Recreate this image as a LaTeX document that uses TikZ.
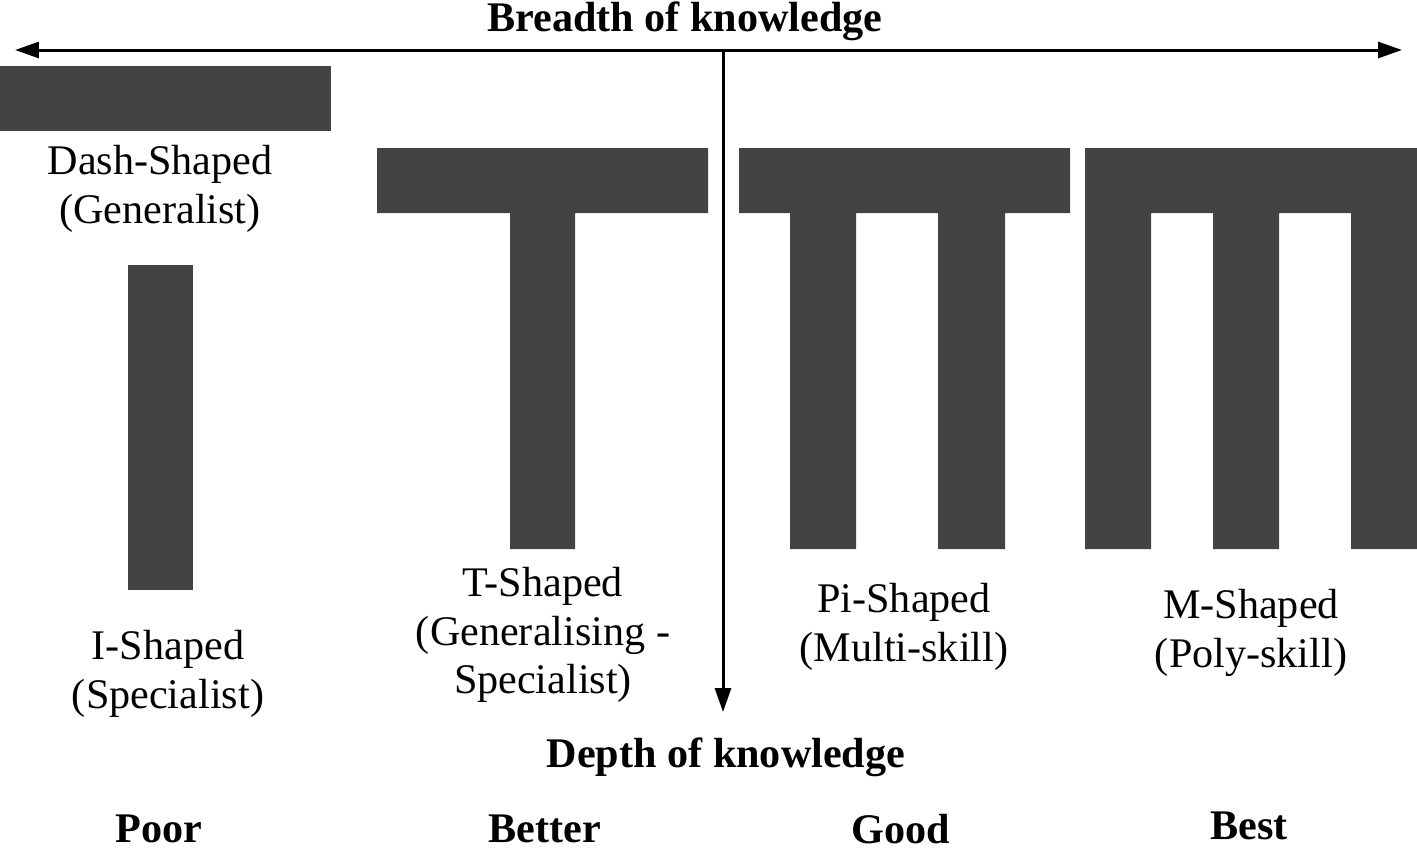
\documentclass[tikz,border=0pt]{standalone}
\usepackage{fontspec}
\setmainfont{Liberation Serif}
\usetikzlibrary{positioning, arrows.meta}
\definecolor{barcol}{HTML}{434343}

\begin{document}
\begin{tikzpicture}[
  x=0.02cm, y=-0.02cm,
  font=\fontsize{24}{27.5}\selectfont, >={Triangle[length=4.8mm, width=3.2mm]},
  lbl/.style={align=center, inner sep=0pt},
  rate/.style={font=\fontsize{24}{27.5}\selectfont\bfseries, inner sep=0pt},
  axis/.style={line width=1.7pt},
]
  \useasboundingbox (0,0) rectangle (1417,850);

  % bars
  \fill[barcol] (0,66) rectangle (331,131);
  \fill[barcol] (128,265) rectangle (193,590);
  \fill[barcol] (377,148) rectangle (708,213) (510,213) rectangle (575,549);
  \fill[barcol] (739,148) rectangle (1070,213) (790,213) rectangle (856,549)
    (938,213) rectangle (1005,549);
  \fill[barcol] (1085,148) rectangle (1417,213) (1085,213) rectangle (1151,549)
    (1213,213) rectangle (1279,549) (1351,213) rectangle (1417,549);

  % axes
  \coordinate (breadthL) at (15,50);
  \coordinate (breadthR) at (1402,50);
  \coordinate (depthTop) at (723,50);
  \coordinate (depthEnd) at (723,712);
  \draw[axis, <->] (breadthL) -- (breadthR);
  \draw[axis, ->] (depthTop) -- (depthEnd);
  \node[rate] (breadth) at (685,21) {Breadth of knowledge};
  \node[rate] (depth) at (726,757) {Depth of knowledge};

  % shape labels
  \node[lbl] (dash) at (160,189) {Dash-Shaped\\(Generalist)};
  \node[lbl] (ishape) at (168,674) {I-Shaped\\(Specialist)};
  \node[lbl] (tshape) at (543,635) {T-Shaped\\(Generalising -\\Specialist)};
  \node[lbl] (pishape) at (904,627) {Pi-Shaped\\(Multi-skill)};
  \node[lbl] (mshape) at (1251,633) {M-Shaped\\(Poly-skill)};

  % ratings
  \node[rate] (poor) at (159,829) {Poor};
  \node[rate] (better) at (545,829) {Better};
  \node[rate] (good) at (901,829) {Good};
  \node[rate] (best) at (1249,826) {Best};
\end{tikzpicture}
\end{document}
